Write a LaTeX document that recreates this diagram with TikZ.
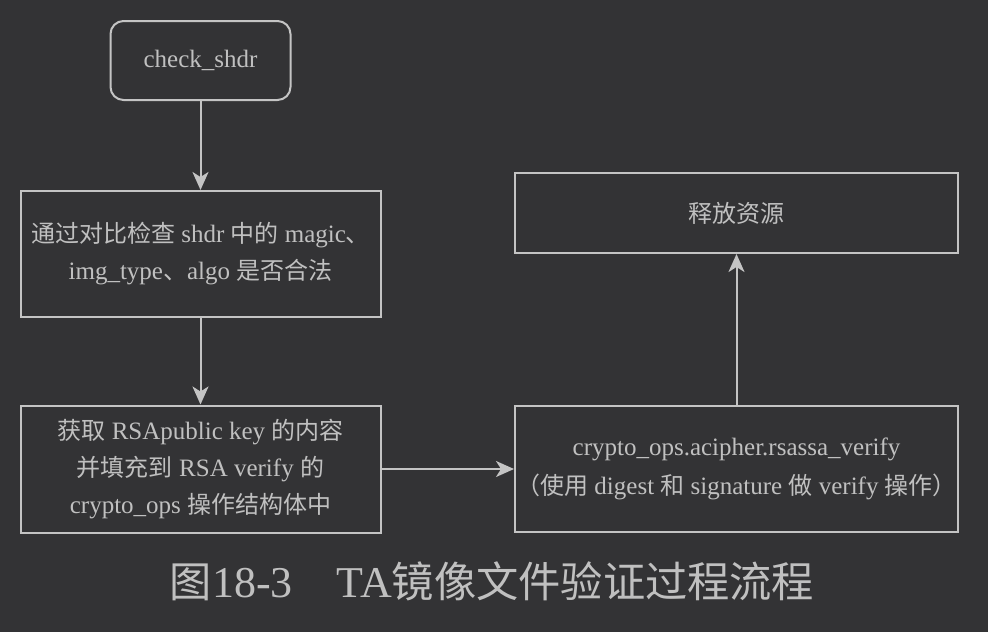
\documentclass[tikz,border=0pt]{standalone}
\usepackage{fontspec}
\setmainfont{Liberation Serif}
\newfontfamily\cjk[Scale=0.96]{Noto Sans CJK SC}
\newcommand{\zh}[1]{{\cjk #1}}
\usetikzlibrary{arrows.meta}

\definecolor{bgclr}{RGB}{51,51,53}
\definecolor{lnclr}{RGB}{196,196,196}
\definecolor{txclr}{RGB}{192,192,192}

\tikzset{
  box/.style={draw=lnclr, line width=2pt, text=txclr, align=center,
    font=\fontsize{25}{37}\selectfont, inner sep=0pt},
  startbox/.style={box, rounded corners=13pt},
  flow/.style={draw=lnclr, line width=2pt,
    -{Stealth[length=18pt,width=16pt,inset=5pt]}}
}

\begin{document}
\begin{tikzpicture}[x=1pt,y=-1pt]
% background
  \useasboundingbox (0,0) rectangle (988,632);
  \fill[bgclr] (0,0) rectangle (988,632);

% boxes
  \node[startbox, minimum width=180pt, minimum height=79pt] (chk) at (200.5,60.5) {check\_shdr};
  \node[box, minimum width=360pt, minimum height=126pt] (cmp) at (200.5,254)
    {\zh{通过对比检查} shdr \zh{中的} magic\zh{、}\\img\_type\zh{、}algo \zh{是否合法}};
  \node[box, minimum width=360pt, minimum height=127pt] (key) at (200.5,469)
    {\zh{获取} RSApublic key \zh{的内容}\\\zh{并填充到} RSA verify \zh{的}\\crypto\_ops \zh{操作结构体中}};
  \node[box, minimum width=443pt, minimum height=126pt, font=\fontsize{25}{39}\selectfont] (vfy) at (736.5,469)
    {crypto\_ops.acipher.rsassa\_verify\\\zh{（使用} digest \zh{和} signature \zh{做} verify \zh{操作）}};
  \node[box, minimum width=443pt, minimum height=80pt] (rel) at (736.5,213) {\zh{释放资源}};

% arrows
  \draw[flow] (chk) -- (cmp);
  \draw[flow] (cmp) -- (key);
  \draw[flow] (key) -- (vfy);
  \draw[flow] (vfy) -- (rel);

% caption
  \node[text=txclr, font=\fontsize{44}{44}\selectfont] (cap) at (492,581)
    {\zh{图}18-3\hspace{1em}TA\zh{镜像文件验证过程流程}};
\end{tikzpicture}
\end{document}
